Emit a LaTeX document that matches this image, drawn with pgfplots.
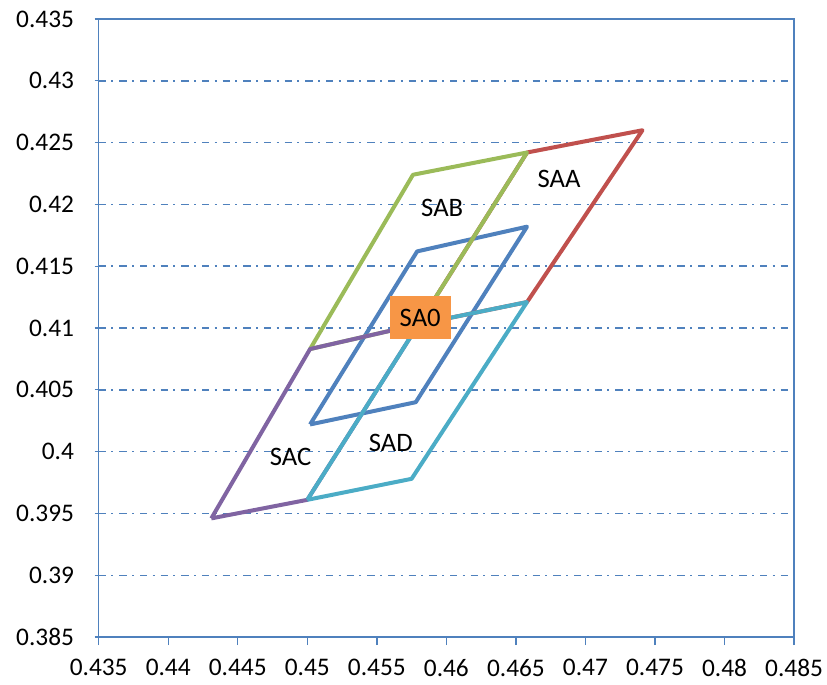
\documentclass[border=0pt]{standalone}
\usepackage{fontspec}
\setmainfont{Carlito}
\usepackage{pgfplots}
\pgfplotsset{compat=1.18}
\definecolor{axisblue}{HTML}{4F81BD}
\definecolor{sblue}{HTML}{4F81BD}
\definecolor{sred}{HTML}{C0504D}
\definecolor{sgreen}{HTML}{9BBB59}
\definecolor{spurple}{HTML}{8064A2}
\definecolor{scyan}{HTML}{4BACC6}
\definecolor{sorange}{HTML}{F79646}
\begin{document}
\begin{tikzpicture}
\begin{axis}[
  at={(0,0)}, anchor=south west,
  scale only axis, width=521.5pt, height=463.5pt,
  xmin=0.435, xmax=0.485, ymin=0.385, ymax=0.435,
  scaled ticks=false,
  xtick={0.435,0.44,0.445,0.45,0.455,0.46,0.465,0.47,0.475,0.48,0.485},
  xticklabels={0.435,0.44,0.445,0.45,0.455,0.46,0.465,0.47,0.475,0.48,0.485},
  ytick={0.385,0.39,0.395,0.4,0.405,0.41,0.415,0.42,0.425,0.43,0.435},
  yticklabels={0.385,0.39,0.395,0.4,0.405,0.41,0.415,0.42,0.425,0.43,0.435},
  xtick pos=lower, ytick pos=left,
  xtick align=outside, ytick align=center,
  major tick length=6pt,
  tick style={color=axisblue, line width=1pt},
  axis line style={color=axisblue, line width=1.1pt},
  ymajorgrids,
  grid style={color=axisblue, line width=1.1pt, dash pattern=on 5.5pt off 4pt on 1.5pt off 4.5pt},
  ticklabel style={font=\fontsize{19}{22}\selectfont, text=black},
  yticklabel style={xshift=-12pt},
  xticklabel style={inner sep=0pt, text depth=0pt, yshift=-10.5pt},
  clip=false,
  every axis plot/.append style={line width=3pt, line join=round, mark=none},
]
% SA0
\addplot[sblue] coordinates {(0.4502,0.4022) (0.4578,0.4040) (0.4658,0.4182) (0.4579,0.4162) (0.4502,0.4022)};
% SAA
\addplot[sred] coordinates {(0.4580,0.4103) (0.4658,0.4121) (0.4741,0.4260) (0.4658,0.4242) (0.4580,0.4103)};
% SAB
\addplot[sgreen] coordinates {(0.4502,0.4083) (0.4580,0.4103) (0.4658,0.4242) (0.4576,0.4224) (0.4502,0.4083)};
% SAC
\addplot[spurple] coordinates {(0.4431,0.3946) (0.4500,0.3961) (0.4580,0.4103) (0.4502,0.4083) (0.4431,0.3946)};
% SAD
\addplot[scyan] coordinates {(0.4500,0.3961) (0.4575,0.3978) (0.4658,0.4121) (0.4580,0.4103) (0.4500,0.3961)};
\node[font=\fontsize{20}{24}\selectfont] at (axis cs:0.4681,0.4221) {SAA};
\node[font=\fontsize{20}{24}\selectfont] at (axis cs:0.4597,0.4197) {SAB};
\node[font=\fontsize{20}{24}\selectfont] at (axis cs:0.4488,0.3996) {SAC};
\node[font=\fontsize{20}{24}\selectfont] at (axis cs:0.4560,0.4007) {SAD};
\node[font=\fontsize{20}{24}\selectfont, fill=sorange, minimum width=46pt, minimum height=32.5pt, inner sep=0pt] at (axis cs:0.45812,0.41083) {SA0};
\end{axis}
\pgfresetboundingbox
\path[use as bounding box] (-74pt,-35.25pt) rectangle (546.2pt,477.75pt);
\end{tikzpicture}
\end{document}
